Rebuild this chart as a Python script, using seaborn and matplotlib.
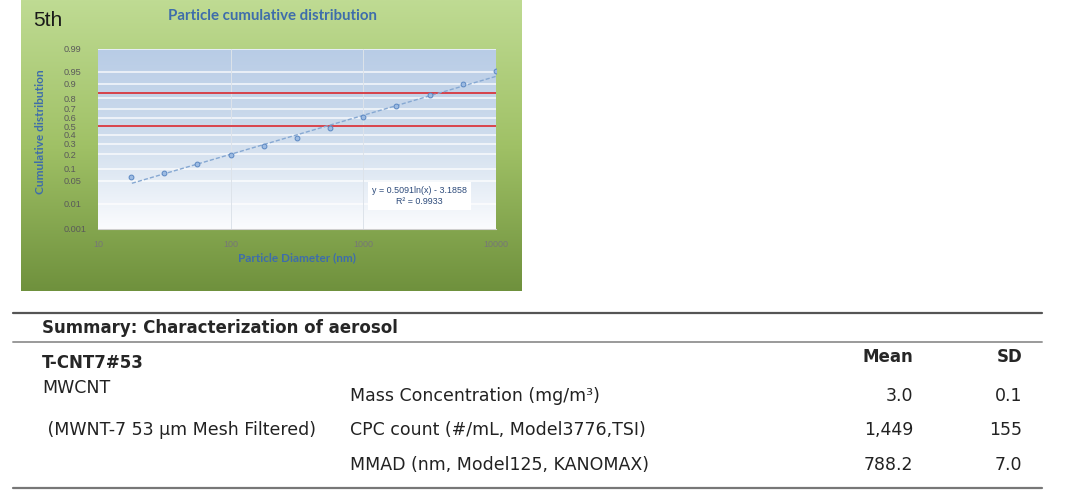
import numpy as np
import matplotlib
matplotlib.use("Agg")
import matplotlib.pyplot as plt
from matplotlib.colors import LinearSegmentedColormap
from matplotlib.lines import Line2D
from statistics import NormalDist
import seaborn as sns

# particle size distribution
diameter_nm = [17.8, 31.6, 56.2, 100, 178, 316, 562, 1000, 1778, 3162, 5623, 10000]
cumulative = [0.062, 0.081, 0.128, 0.194, 0.277, 0.366, 0.484, 0.611, 0.733, 0.827, 0.899, 0.951]

prob_ticks = [0.001, 0.01, 0.05, 0.1, 0.2, 0.3, 0.4, 0.5, 0.6, 0.7, 0.8, 0.9, 0.95, 0.99]
prob_labels = ["0.001", "0.01", "0.05", "0.1", "0.2", "0.3", "0.4", "0.5",
               "0.6", "0.7", "0.8", "0.9", "0.95", "0.99"]
x_ticks = [10, 100, 1000, 10000]
x_labels = ["10", "100", "1000", "10000"]
ref_levels = [0.5, 0.84]

# log trendline as printed on the chart
trend_slope = 0.5091
trend_intercept = -3.1858
trend_r2 = 0.9933
trend_x = [18, 10000]

# summary table
table_title = "Summary: Characterization of aerosol"
sample_id = "T-CNT7#53"
material = ["MWCNT", " (MWNT-7 53 \u03bcm Mesh Filtered)"]
measures = ["Mass Concentration (mg/m\u00b3)", "CPC count (#/mL, Model3776,TSI)",
            "MMAD (nm, Model125, KANOMAX)"]
means = ["3.0", "1,449", "788.2"]
sds = ["0.1", "155", "7.0"]

sns.set_style("white")
plt.rcParams["font.family"] = ["Liberation Sans", "DejaVu Sans"]

probit = NormalDist().inv_cdf

W, H = 1068, 496
fig = plt.figure(figsize=(W / 100, H / 100), dpi=100)


def box(x0, y0, x1, y1):
    return [x0 / W, 1 - y1 / H, (x1 - x0) / W, (y1 - y0) / H]


def fx(x):
    return x / W


def fy(y):
    return 1 - y / H


grad = np.linspace(0, 1, 256).reshape(-1, 1)

# green chart panel
green = LinearSegmentedColormap.from_list("green", ["#bfdb93", "#a0c166", "#6f913d"])
bg = fig.add_axes(box(21, 0, 522, 291))
bg.imshow(grad, aspect="auto", cmap=green, extent=[0, 1, 0, 1])
bg.axis("off")

# plot area background
blue = LinearSegmentedColormap.from_list("blue", ["#b8cce6", "#cfdded", "#fbfcfe"])
pa = fig.add_axes(box(98, 49, 496, 229))
pa.imshow(grad, aspect="auto", cmap=blue, extent=[0, 1, 0, 1])
pa.axis("off")

ax = fig.add_axes(box(98, 49, 496, 229))
ax.set_facecolor("none")
ax.set_xscale("log")

for t in prob_ticks:
    ax.axhline(probit(t), color="white", lw=1.1, alpha=0.85, zorder=1)
for xv in x_ticks[1:-1]:
    ax.axvline(xv, color="#dde3ea", lw=0.7, zorder=1)
for lv in ref_levels:
    ax.axhline(probit(lv), color="#d8363e", lw=1.3, zorder=2)

tx = np.geomspace(trend_x[0], trend_x[1], 50)
sns.lineplot(x=tx, y=trend_slope * np.log(tx) + trend_intercept, ax=ax,
             color="#86a8d2", lw=1.0, linestyle=(0, (3, 1.5)), zorder=3)
sns.scatterplot(x=diameter_nm, y=[probit(c) for c in cumulative], ax=ax,
                s=12, color="#9dbbe2", edgecolor="#5a87c2", linewidth=0.7, zorder=4)

ax.set_xlim(10, 10000)
ax.set_ylim(probit(0.001), probit(0.99))
ax.set_xticks(x_ticks)
ax.set_xticklabels(x_labels)
ax.set_yticks([probit(t) for t in prob_ticks])
ax.set_yticklabels(prob_labels)
ax.tick_params(axis="y", length=0, pad=24.5, labelsize=6.6, labelcolor="#5a5a5a")
for lab in ax.get_yticklabels():
    lab.set_horizontalalignment("left")
ax.tick_params(axis="x", which="major", length=0, pad=8, labelsize=6.5, labelcolor="#777777")
ax.tick_params(axis="x", which="minor", length=2, color="#c8c8c8", direction="in")
ax.set_xlabel("")
ax.set_ylabel("")
for s in ["top", "right", "left"]:
    ax.spines[s].set_visible(False)
ax.spines["bottom"].set_color("#cfcfcf")
ax.spines["bottom"].set_linewidth(0.8)

title_c = "#3e6dab"
fig.text(fx(33), fy(20), "5th", fontsize=15, color="#1a1a1a", va="center", ha="left")
fig.text(fx(272), fy(16), "Particle cumulative distribution", ha="center", va="center",
         fontsize=10.8, fontweight="bold", color=title_c, family="Lato")
fig.text(fx(40), fy(132), "Cumulative distribution", rotation=90, ha="center", va="center",
         fontsize=8.6, fontweight="bold", color=title_c, family="Lato")
fig.text(fx(297), fy(258), "Particle Diameter (nm)", ha="center", va="center",
         fontsize=8.5, fontweight="bold", color=title_c, family="Lato")
fig.text(fx(419), fy(196), f"y = {trend_slope}ln(x) - {abs(trend_intercept)}\nR\u00b2 = {trend_r2}",
         ha="center", va="center", multialignment="center", fontsize=6.4, color="#2c4a7a",
         linespacing=1.4, bbox=dict(boxstyle="square,pad=0.45", fc="white", ec="none"))

# table
def hline(y, color, lw):
    fig.add_artist(Line2D([fx(13), fx(1042)], [fy(y), fy(y)], transform=fig.transFigure,
                          color=color, lw=lw))


hline(313, "#555555", 1.6)
hline(342, "#9a9a9a", 1.4)
hline(488, "#777777", 1.6)

tfont = "DejaVu Sans"
fig.text(fx(42), fy(328), table_title, fontsize=12, fontweight="bold", va="center", family=tfont)
fig.text(fx(42), fy(363), sample_id, fontsize=12, fontweight="bold", va="center", family=tfont)
fig.text(fx(913), fy(357), "Mean", fontsize=12, fontweight="bold", va="center", ha="right",
         family=tfont)
fig.text(fx(1022), fy(357), "SD", fontsize=12, fontweight="bold", va="center", ha="right",
         family=tfont)

tc = "#222222"
fig.text(fx(42), fy(388), material[0], fontsize=12.5, va="center", color=tc, family=tfont)
fig.text(fx(42), fy(430), material[1], fontsize=12.5, va="center", color=tc, family=tfont)
row_y = [396, 430, 465]
for yy, m, mu, sd in zip(row_y, measures, means, sds):
    fig.text(fx(350), fy(yy), m, fontsize=12.5, va="center", color=tc, family=tfont)
    fig.text(fx(913), fy(yy), mu, fontsize=12.5, va="center", ha="right", color=tc, family=tfont)
    fig.text(fx(1022), fy(yy), sd, fontsize=12.5, va="center", ha="right", color=tc, family=tfont)

fig.savefig("out.png", dpi=100)
